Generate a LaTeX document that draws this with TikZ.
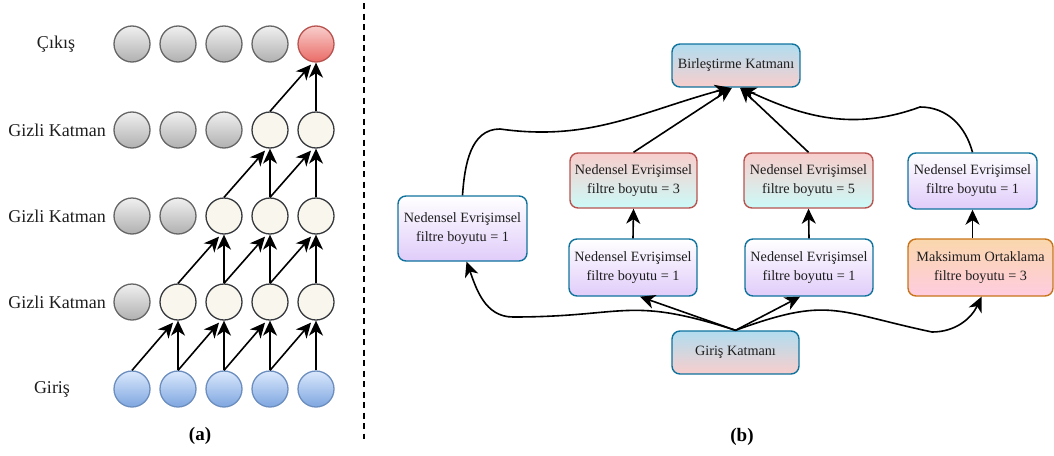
\documentclass[tikz,border=0pt]{standalone}
\usepackage{fontspec}
\setmainfont{Liberation Serif}
\usetikzlibrary{arrows.meta,calc}

% neuron colours
\definecolor{gryT}{HTML}{F0F0F0}
\definecolor{gryB}{HTML}{B0B0B0}
\definecolor{gryD}{HTML}{666666}
\definecolor{crmF}{HTML}{F9F7ED}
\definecolor{crmD}{HTML}{36393D}
\definecolor{bluT}{HTML}{DAE8FC}
\definecolor{bluB}{HTML}{7EA6E0}
\definecolor{bluD}{HTML}{6C8EBF}
\definecolor{redT}{HTML}{F8CECC}
\definecolor{redB}{HTML}{EA6B66}
\definecolor{redD}{HTML}{B85450}
% box colours
\definecolor{bxBlue}{HTML}{10739E}
\definecolor{bxRed}{HTML}{B85450}
\definecolor{bxOrg}{HTML}{C8741A}
\definecolor{skyT}{HTML}{B1DDF0}
\definecolor{pinkB}{HTML}{F8CECC}
\definecolor{lilB}{HTML}{E0CCFA}
\definecolor{cyanB}{HTML}{CCFAF8}
\definecolor{orgT}{HTML}{FAD7AC}
\definecolor{orgB}{HTML}{FFCCE0}
\definecolor{txt}{HTML}{1E1E1E}

\begin{document}
\begin{tikzpicture}[x=1pt,y=1pt,
  neuron/.style={circle, minimum size=36pt, inner sep=0pt, line width=1.3pt},
  grayn/.style={neuron, draw=gryD, top color=gryT, bottom color=gryB},
  cream/.style={neuron, draw=crmD, fill=crmF},
  inpn/.style={neuron, draw=bluD, top color=bluT, bottom color=bluB},
  outn/.style={neuron, draw=redD, top color=redT, bottom color=redB},
  lay/.style={font=\fontsize{18}{20}\selectfont, text=txt},
  sublabel/.style={font=\bfseries\fontsize{19}{21}\selectfont},
  arrowtip/.tip={Stealth[length=15pt,width=14pt,inset=4.5pt]},
  conn/.style={line width=1.6pt, -arrowtip},
  box/.style={rounded corners=8pt, line width=1.4pt, align=center, inner sep=0pt,
    font=\fontsize{14.2}{19}\selectfont, text=txt},
  bluebox/.style={box, draw=bxBlue, top color=skyT, bottom color=pinkB},
  lilbox/.style={box, draw=bxBlue, top color=white, bottom color=lilB},
  redbox/.style={box, draw=bxRed, top color=pinkB, bottom color=cyanB},
  orgbox/.style={box, draw=bxOrg, top color=orgT, bottom color=orgB},
  sep/.style={line width=1.8pt, dash pattern=on 6pt off 4.5pt}
]
\useasboundingbox (0,0) rectangle (1054,-455);

% ---------------- (a) dilated causal convolution ----------------
\foreach \k/\yy in {0/389,1/302,2/216,3/130,4/44} {
  \foreach \j in {1,...,5} {
    \pgfmathsetmacro\xx{132+46*(\j-1)}
    \ifnum\k=0
      \node[inpn] (c\k\j) at (\xx,-\yy) {};
    \else
      \ifnum\j>\k
        \ifnum\k=4
          \node[outn] (c\k\j) at (\xx,-\yy) {};
        \else
          \node[cream] (c\k\j) at (\xx,-\yy) {};
        \fi
      \else
        \node[grayn] (c\k\j) at (\xx,-\yy) {};
      \fi
    \fi
  }
}

\node[lay] (lout) at (56,-44) {Çıkış};
\node[lay] (lh3) at (57,-130) {Gizli Katman};
\node[lay] (lh2) at (57,-216) {Gizli Katman};
\node[lay] (lh1) at (57,-302) {Gizli Katman};
\node[lay] (lin) at (52,-389) {Giriş};

\foreach \k in {1,...,4} {
  \pgfmathtruncatemacro\p{\k-1}
  \pgfmathtruncatemacro\s{\k+1}
  \foreach \j in {\s,...,5} {
    \pgfmathtruncatemacro\q{\j-1}
    \draw[conn] (c\p\q.north) -- ([shift={(-5pt,-2pt)}]c\k\j.south);
    \draw[conn] (c\p\j.north) -- (c\k\j.south);
  }
}

\node[sublabel] (capa) at (200,-436) {(a)};

% separator
\coordinate (septop) at (364,-3);
\coordinate (sepbot) at (364,-439);
\draw[sep] (septop) -- (sepbot);

% ---------------- (b) multi-branch block ----------------
\node[bluebox, minimum width=128pt, minimum height=43pt] (bk) at (736,-65.5) {Birleştirme Katmanı};
\node[bluebox, minimum width=127pt, minimum height=43pt] (gin) at (735.5,-352.5) {Giriş Katmanı};
\node[lilbox, minimum width=129pt, minimum height=65pt] (nb1) at (462.5,-228.5) {Nedensel Evrişimsel\\filtre boyutu = 1};
\node[redbox, minimum width=127pt, minimum height=55pt] (n3) at (633.5,-180.5) {Nedensel Evrişimsel\\filtre boyutu = 3};
\node[redbox, minimum width=129pt, minimum height=55pt] (n5) at (808.5,-180.5) {Nedensel Evrişimsel\\filtre boyutu = 5};
\node[lilbox, minimum width=128pt, minimum height=57pt] (n1a) at (633,-267.5) {Nedensel Evrişimsel\\filtre boyutu = 1};
\node[lilbox, minimum width=128pt, minimum height=57pt] (n1b) at (809,-267.5) {Nedensel Evrişimsel\\filtre boyutu = 1};
\node[orgbox, minimum width=145pt, minimum height=57pt] (mx) at (980.5,-267.5) {Maksimum Ortaklama\\filtre boyutu = 3};
\node[lilbox, minimum width=129pt, minimum height=56pt] (nr) at (972.5,-181) {Nedensel Evrişimsel\\filtre boyutu = 1};

% bends of the curved connectors
\coordinate (w1) at (513,-317);
\coordinate (w2) at (932,-332);
\coordinate (w3) at (500,-129);
\coordinate (w4) at (920,-107);

\draw[conn] (gin.north) -- ([xshift=7pt]n1a.south);
\draw[conn] (gin.north) -- ([xshift=-9pt]n1b.south);
\draw[conn] (gin.north) to[out=162,in=0,looseness=1.3] (w1) to[out=180,in=-70] ([xshift=4pt]nb1.south);
\draw[conn] (gin.north) to[out=20,in=168,looseness=1.3] (w2) to[out=0,in=-115] ([xshift=1pt]mx.south);

\draw[conn] (n1a.north) -- (n3.south);
\draw[conn] (n1b.north) -- (n5.south);
\draw[conn] (nr.south |- mx.north) -- (nr.south);

\draw[conn] (n3.north) -- ([xshift=-4pt]bk.south);
\draw[conn] (n5.north) -- ([xshift=4pt]bk.south);
\draw[conn] (nb1.north) to[out=86,in=180] (w3) to[out=-8,in=195] ([xshift=-6pt]bk.south);
\draw[conn] (nr.north) to[out=105,in=0] (w4) to[out=200,in=-25] ([xshift=5pt]bk.south);

\node[sublabel] (capb) at (742,-437) {(b)};
\end{tikzpicture}
\end{document}
